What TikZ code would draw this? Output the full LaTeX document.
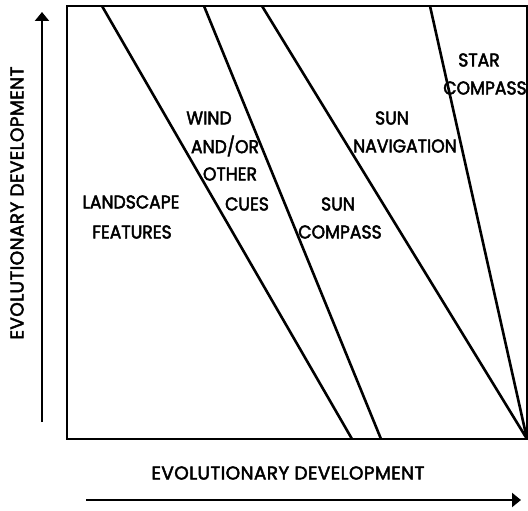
\documentclass[tikz,border=0pt]{standalone}
\usepackage{fontspec}
\newfontfamily\lblfont{Poppins}[FakeBold=2.5, FakeStretch=0.93]
\newfontfamily\axfont{Poppins}[FakeBold=2.5, LetterSpace=2]
\usetikzlibrary{arrows.meta}
\begin{document}
\begin{tikzpicture}[x=1pt,y=-1pt,
  lbl/.style={font=\fontsize{18.5}{19}\lblfont, inner sep=0pt, anchor=center},
  axlbl/.style={font=\fontsize{18.5}{19}\axfont, inner sep=0pt, anchor=center},
  bnd/.style={line width=2.6pt},
  devarrow/.style={line width=2.4pt,-{Triangle[width=14pt,length=9pt]}}]
\useasboundingbox (0,0) rectangle (528,511);
% frame corners
\coordinate (tl) at (67,6);
\coordinate (tr) at (527,6);
\coordinate (bl) at (67,439);
\coordinate (br) at (527,439);
% boundary endpoints
\coordinate (a1) at (102,6);  \coordinate (b1) at (352,439);
\coordinate (a2) at (204,6);  \coordinate (b2) at (381,439);
\coordinate (a3) at (262,6);
\coordinate (a4) at (430,6);
% labels
\node[lbl] (lf1) at (131,202) {LANDSCAPE};
\node[lbl] (lf2) at (132,232) {FEATURES};
\node[lbl] (w1) at (209,118) {WIND};
\node[lbl] (w2) at (225,146) {AND/OR};
\node[lbl] (w3) at (230,174) {OTHER};
\node[lbl] (w4) at (247,204) {CUES};
\node[lbl] (sc1) at (338,204) {SUN};
\node[lbl] (sc2) at (340,232) {COMPASS};
\node[lbl] (sn1) at (392,118) {SUN};
\node[lbl] (sn2) at (405,146) {NAVIGATION};
\node[lbl] (st1) at (479,60) {STAR};
\node[lbl] (st2) at (485,88) {COMPASS};
\node[axlbl] (xl) at (288,473) {EVOLUTIONARY DEVELOPMENT};
\node[axlbl, rotate=90] (yl) at (17,203) {EVOLUTIONARY DEVELOPMENT};
% frame and boundaries
\draw[bnd, line join=miter] (tl) -- (tr) -- (br) -- (bl) -- cycle;
\draw[bnd] (a1) -- (b1);
\draw[bnd] (a2) -- (b2);
\draw[bnd] (a3) -- (br);
\draw[bnd] (a4) -- (br);
% axis arrows
\coordinate (v0) at (42,422);
\coordinate (v1) at (42,12);
\coordinate (h0) at (86,500);
\coordinate (h1) at (521,500);
\draw[devarrow] (v0) -- (v1);
\draw[devarrow] (h0) -- (h1);
\end{tikzpicture}
\end{document}
